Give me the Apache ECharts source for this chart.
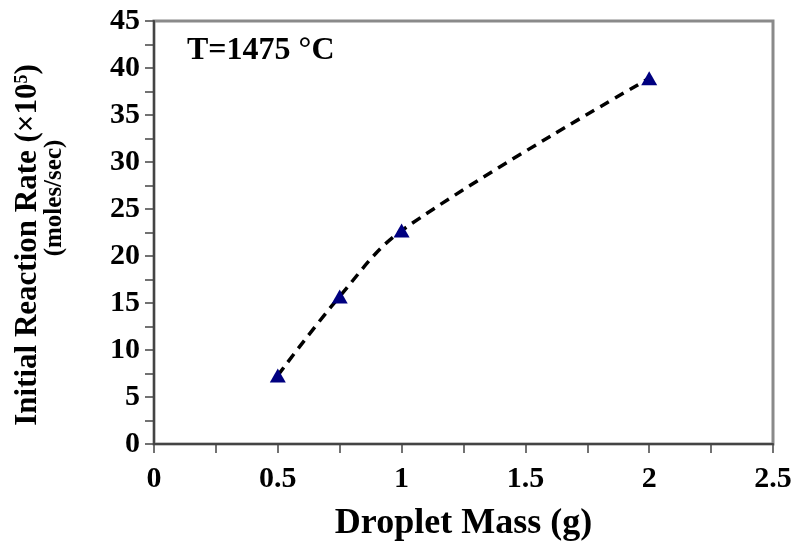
<!DOCTYPE html>
<html>
<head>
<meta charset="utf-8">
<script src="https://cdn.jsdelivr.net/npm/echarts@6/dist/echarts.min.js"></script>
<style>
  html, body { margin: 0; padding: 0; background: #fff; }
  #chart { width: 795px; height: 542px; }
</style>
</head>
<body>
<div id="chart"></div>
<script>
// Droplet mass (g) and initial reaction rate (x10^5 moles/sec) at T = 1475 °C
const dropletMass = [0.5, 0.75, 1.0, 2.0];
const reactionRate = [7.3, 15.7, 22.7, 38.9];

const xTicks = { min: 0, max: 2.5, interval: 0.5 };
const yTicks = { min: 0, max: 45, interval: 5 };

const FONT = '"Liberation Serif", "Times New Roman", serif';
const AXIS_DARK = '#444';
const FRAME_GRAY = '#8a8a8a';

const chart = echarts.init(document.getElementById('chart'), null, { renderer: 'canvas' });

chart.setOption({
  animation: false,
  backgroundColor: '#fff',
  grid: {
    left: 154, right: 22, top: 21, bottom: 98,
    outerBoundsMode: 'none',
    containLabel: false,
    show: true, borderColor: FRAME_GRAY, borderWidth: 3, backgroundColor: 'transparent'
  },
  xAxis: {
    type: 'value',
    min: xTicks.min, max: xTicks.max, interval: xTicks.interval,
    name: 'Droplet Mass (g)',
    nameLocation: 'middle',
    nameGap: 62,
    nameTextStyle: { fontFamily: FONT, fontWeight: 'bold', fontSize: 36, color: '#000' },
    axisLine: { show: true, onZero: false, lineStyle: { color: AXIS_DARK, width: 2 } },
    axisTick: { show: true, inside: false, length: 9, lineStyle: { color: AXIS_DARK, width: 1.5 } },
    minorTick: { show: true, splitNumber: 2, length: 9, lineStyle: { color: AXIS_DARK, width: 1.5 } },
    axisLabel: {
      margin: 20, fontFamily: FONT, fontWeight: 'bold', fontSize: 30, color: '#000',
      formatter: v => String(+v.toFixed(2))
    },
    splitLine: { show: false }
  },
  yAxis: {
    type: 'value',
    min: yTicks.min, max: yTicks.max, interval: yTicks.interval,
    axisLine: { show: true, onZero: false, lineStyle: { color: AXIS_DARK, width: 2 } },
    axisTick: { show: true, inside: false, length: 9, lineStyle: { color: AXIS_DARK, width: 1.5 } },
    minorTick: { show: true, splitNumber: 2, length: 9, lineStyle: { color: AXIS_DARK, width: 1.5 } },
    axisLabel: { margin: 14, fontFamily: FONT, fontWeight: 'bold', fontSize: 30, color: '#000' },
    splitLine: { show: false }
  },
  series: [{
    type: 'line',
    data: dropletMass.map((m, i) => [m, reactionRate[i]]),
    smooth: 0.35,
    symbol: 'triangle',
    symbolSize: [16, 14],
    itemStyle: { color: '#000080' },
    lineStyle: { color: '#000', width: 3.5, type: [10, 7] },
    z: 3
  }],
  graphic: [
    {
      type: 'text',
      x: 187, y: 51,
      style: {
        text: 'T=1475 °C',
        font: 'bold 32px ' + FONT,
        fill: '#000',
        align: 'left',
        verticalAlign: 'middle'
      }
    },
    {
      type: 'text',
      x: 28, y: 245,
      rotation: Math.PI / 2,
      style: {
        text: '{m|Initial Reaction Rate (×10}{s|5}{m|)}',
        rich: {
          m: { font: 'bold 31px ' + FONT, fill: '#000' },
          s: { font: 'bold 18px ' + FONT, fill: '#000', padding: [0, 0, 12, 0] }
        },
        align: 'center',
        verticalAlign: 'middle'
      }
    },
    {
      type: 'text',
      x: 55, y: 198,
      rotation: Math.PI / 2,
      style: {
        text: '(moles/sec)',
        font: 'bold 25px ' + FONT,
        fill: '#000',
        align: 'center',
        verticalAlign: 'middle'
      }
    }
  ]
});
</script>
</body>
</html>
